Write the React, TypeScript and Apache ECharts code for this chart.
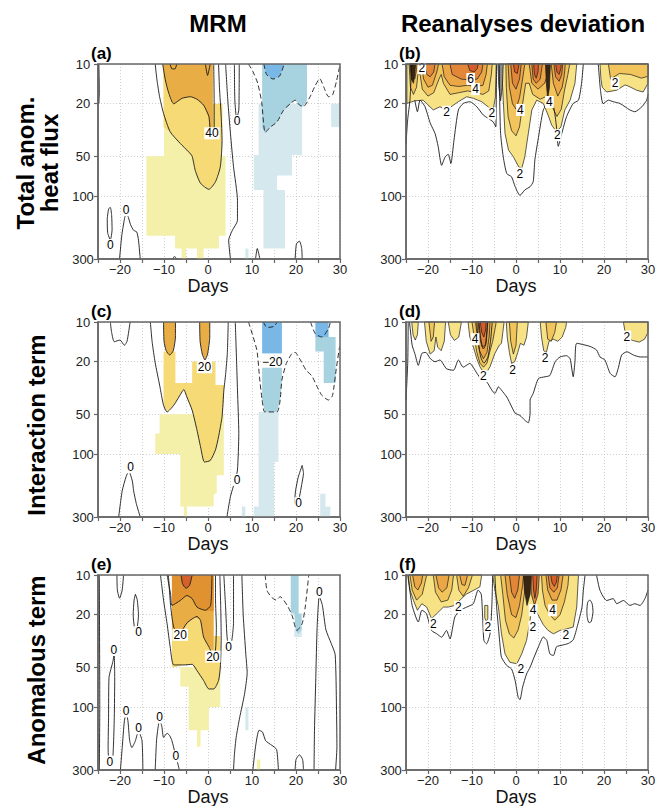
import React, { useEffect, useRef } from 'react';
import * as echarts from 'echarts';

type Pt = [number, number]; // [day, hPa]
type Fill = [string, Pt[]];
type Lbl = [string, number, number];

// ---------- axis definitions ----------
const X_MIN = -25;
const X_MAX = 30;
const X_STEP = 5;
const P_TOP = 10;
const P_BOTTOM = 300;
const P_TICKS = [10, 20, 50, 100, 300];

// ---------- panel (a): MRM, total anomalous heat flux ----------
const A_FILLS: Fill[] = [
  ['y1', [[-10, 30], [2, 30], [2, 50], [4, 50], [4, 200], [2.5, 200], [2.5, 250], [-1, 250], [-1, 300], [-2.5, 300], [-2.5, 250], [-5, 250], [-5, 300], [-6, 300], [-6, 250], [-7.5, 250], [-7.5, 200], [-14, 200], [-14, 50], [-10, 50]]],
  ['y2', [[-10.2, 10], [-10.1, 20], [-10.1, 30], [-8.6, 32.6], [-6.3, 40], [-4.4, 46.3], [-3.6, 50], [-2.9, 64], [-1.7, 80], [0.2, 89], [1.7, 78], [2.8, 60], [3.2, 38], [3.3, 20], [1.1, 20], [1.1, 10]]],
  ['o1', [[-10.3, 10], [-9.7, 13.2], [-8.9, 16.7], [-7.8, 20], [-5.9, 18.2], [-4, 17.7], [-2.5, 18.5], [-1, 20.5], [0.2, 25], [0.3, 30], [1.1, 30], [1.1, 10]]],
  ['b1', [[11.5, 20], [21.4, 20], [21.4, 49], [19.1, 49], [19.1, 70], [15.7, 70], [15.7, 90], [17.5, 90], [17.5, 250], [12.6, 250], [12.6, 90], [10.4, 90], [10.4, 49], [11.5, 49]]],
  ['b1', [[8.5, 250], [9.2, 250], [9.2, 300], [8.5, 300]]],
  ['b1', [[28, 20], [30, 20], [30, 30], [28, 30]]],
  ['b2', [[12.3, 10], [22.5, 10], [22.5, 18.8], [21.7, 21], [20.8, 20.5], [19.8, 18.8], [18.7, 20], [17.2, 22.3], [15.7, 27.4], [14.2, 30], [13, 33.3], [12.3, 30]]],
  ['b3', [[12.7, 10], [13.3, 12], [14.8, 13], [16.3, 12.3], [17.3, 10]]],
];
const A_SOLID: Pt[][] = [
  [[-12, 10], [-11.6, 13.2], [-11, 17.7], [-10.1, 23.7], [-8.6, 32.6], [-6.3, 40], [-4.4, 46.3], [-3.6, 50], [-2.9, 64], [-1.7, 80], [0.2, 89], [1.7, 78], [2.8, 60], [3.2, 38], [3.0, 25], [2.6, 15], [2.4, 10]],
  [[-10.3, 10], [-9.7, 13.2], [-8.9, 16.7], [-7.8, 20], [-5.9, 18.2], [-4, 17.7], [-2.5, 18.5], [-1, 20.5], [0.2, 25], [0.5, 31], [1.0, 32], [1.4, 30], [1.4, 20], [1.3, 10]],
  [[-8.6, 10], [-8.2, 10.9], [-7.5, 10.9], [-7.1, 10]],
  [[-0.6, 10], [-0.1, 12.2], [0.5, 10]],
  [[4, 10], [4.5, 18.8], [5.1, 33.6], [5.8, 60], [6.7, 108], [6.7, 153], [5.5, 183], [4.7, 216], [5.1, 300]],
  [[6.0, 10], [6.1, 18.8], [6.5, 25.8], [7.0, 22.3], [7.1, 10]],
  [[-24.8, 10], [-24.7, 16], [-24.8, 20]],
  [[-22.6, 125], [-22.9, 150], [-22.8, 190], [-22.2, 215], [-21.8, 180], [-21.9, 140], [-22.2, 122], [-22.6, 125]],
  [[-20.1, 300], [-19.6, 200], [-19, 150], [-18.6, 135], [-18.1, 145], [-17.6, 165], [-16.9, 182], [-16.2, 187], [-15.8, 216], [-15.4, 300]],
  [[-8.2, 300], [-7.6, 288], [-7, 300]],
  [[10.8, 300], [11.2, 250], [11.8, 300]],
  [[19.8, 300], [20.1, 230], [20.8, 220], [21.3, 250], [21.4, 300]],
];
const A_DASHED: Pt[][] = [
  [[9.2, 10], [10.2, 11.4], [11.3, 14], [12.2, 19.5], [13, 33], [14.2, 30], [15.7, 27.4], [17.2, 22.3], [18.7, 20], [19.8, 18.8], [20.8, 20.5], [21.7, 21], [23.2, 17.7], [24.4, 14.5], [25.4, 12.9], [26.3, 14.9], [27.4, 17.7], [28.3, 17.2], [29.2, 13.5], [29.9, 10.5]],
  [[12.7, 10], [13.3, 12], [14.8, 13], [16.3, 12.3], [17.3, 10]],
];
const A_LABELS: Lbl[] = [['40', 0.9, 33.5], ['0', 6.6, 27], ['0', -18.6, 128], ['0', -22.2, 235]];

// ---------- panel (b): Reanalyses deviation, total ----------
const B_FILLS: Fill[] = [
  ['r1', [[-24.8, 10], [-24.8, 19.9], [-23, 19], [-21.1, 18.8], [-18.8, 22.3], [-17.3, 21.1], [-15.8, 22.3], [-13.1, 19.3], [-11.2, 17.7], [-9.7, 18.2], [-7.8, 19.3], [-5.9, 21.7], [-5.2, 22.3], [-4.7, 18], [-4.5, 10]]],
  ['r1', [[-3.3, 10], [-2.9, 18.8], [-2.5, 33.6], [-1.7, 44.9], [-0.6, 50.5], [0.6, 60], [1.3, 62], [2, 50.5], [2.8, 33.6], [3.6, 22.3], [4.7, 18.8], [6.2, 19.9], [7.3, 24.4], [8.1, 29], [9.2, 32.6], [10.2, 30], [11.1, 22.3], [12.3, 18.8], [13.4, 14], [13.8, 10]]],
  ['r1', [[19.1, 10], [19.3, 13], [19.6, 15], [20.6, 16.3], [22.9, 15.8], [24.8, 14.4], [25.9, 14.9], [27.4, 15.8], [28.9, 16.3], [30, 14], [30, 10]]],
  ['r2', [[-24.3, 10], [-24, 15], [-23.3, 17], [-22.6, 15], [-22.3, 12], [-21.8, 12], [-21.3, 15.5], [-20, 17.5], [-18.7, 16.5], [-17.5, 13], [-17, 12], [-16.5, 14], [-15, 17], [-13, 16.5], [-11, 16], [-9, 16.5], [-7.5, 17], [-6.2, 16], [-5.6, 12], [-5.4, 10]]],
  ['r2', [[-2.3, 10], [-2.2, 15], [-1.8, 25], [-1, 32], [0, 35], [0.8, 30], [1.5, 20], [2.2, 14], [3, 14], [3.8, 17], [5.5, 18.5], [7, 17.5], [8.2, 21], [9.3, 25], [10.3, 22], [11, 16], [11.8, 12], [12.2, 10]]],
  ['r2', [[21, 10], [21.5, 13], [23.5, 11.8], [26, 12], [28.5, 12.8], [30, 12.4], [30, 10]]],
  ['r3', [[-24, 10], [-23.6, 12.5], [-23, 13], [-22.6, 11], [-22.5, 10]]],
  ['r3', [[-21.5, 10], [-21, 13], [-20, 15], [-19, 14.5], [-18, 11.5], [-17.6, 10]]],
  ['r3', [[-16.8, 10], [-16.3, 12.5], [-15, 14.5], [-13, 14.8], [-11, 14.5], [-9, 14.8], [-7.5, 14.5], [-6.8, 12], [-6.5, 10]]],
  ['r3', [[-1.8, 10], [-1.5, 15], [-0.8, 20], [0, 22], [0.8, 18], [1.5, 13], [2, 10]]],
  ['r3', [[3, 10], [3.6, 14], [5, 15.5], [6.5, 14], [7.2, 12], [7.5, 10]]],
  ['r3', [[8, 10], [8.5, 14], [9.5, 17.5], [10.5, 15], [11, 12], [11.2, 10]]],
  ['r4', [[-20.8, 10], [-20.3, 12], [-19.5, 12.5], [-18.7, 11.5], [-18.4, 10]]],
  ['r4', [[-15, 10], [-14.5, 12], [-12.5, 13], [-10.5, 13.2], [-8.8, 13], [-7.8, 11.5], [-7.5, 10]]],
  ['r4', [[-1.2, 10], [-0.8, 14], [0, 15.5], [0.8, 13], [1.2, 10]]],
  ['r4', [[3.6, 10], [3.9, 13], [4.6, 14], [5.5, 13], [6, 10]]],
  ['r4', [[8.6, 10], [9, 12.5], [9.8, 13.5], [10.4, 12], [10.6, 10]]],
  ['r5', [[-11, 10], [-10.5, 11.2], [-9.5, 11.5], [-8.8, 10.8], [-8.6, 10]]],
  ['r5', [[-0.6, 10], [-0.3, 11.5], [0.3, 11.8], [0.7, 10]]],
  ['r5', [[4, 10], [4.2, 12], [4.6, 12.8], [5, 11.5], [5.1, 10]]],
  ['r5', [[9, 10], [9.3, 11.5], [9.8, 12], [10.2, 10.8], [10.3, 10]]],
  ['dk', [[6.7, 10], [6.9, 14], [7.2, 18.5], [7.6, 15], [7.8, 10]]],
  ['dk', [[-24.1, 10], [-23.8, 13], [-23.3, 14], [-23, 12], [-22.8, 10]]],
  ['gr', [[-4.1, 10], [-3.9, 15], [-3.5, 19], [-3.1, 15], [-2.9, 10]]],
];
const B_SOLID: Pt[][] = [
  [[-25, 40], [-24.6, 26], [-24.1, 18.8], [-23.7, 10]],
  [[-23, 18.8], [-22.4, 23], [-21.8, 18.8], [-20.7, 21], [-19.5, 28], [-18.4, 33.6], [-17.7, 42], [-16.9, 58.6], [-16.1, 50.5], [-15.4, 48.3], [-14.8, 56.7], [-14.1, 37.8], [-13.1, 22.3], [-12, 19.9], [-10.5, 19.3], [-8.9, 21.1], [-7.4, 24.4], [-5.2, 27.4], [-4.6, 30], [-4.5, 20], [-4.4, 10]],
  [[-3.8, 10], [-3.7, 18.8], [-3.5, 33.6], [-2.9, 50.5], [-2.1, 67.6], [-1, 71.6], [-0.2, 85], [0.9, 99], [2, 90], [3.2, 85], [3.9, 78], [4.3, 53], [5, 37.8], [6.2, 22.3], [7.3, 19.9], [8.5, 21], [9.2, 30], [9.6, 42], [10.4, 33.6], [11.5, 25], [13, 19.9], [14.2, 18.8], [14.9, 14], [15.3, 10]],
  [[18.7, 10], [19.2, 15.8], [19.8, 20], [21, 18.8], [22.1, 19.3], [23.6, 19.9], [24.8, 21.1], [25.9, 22.3], [27, 23], [28.6, 21.1], [29.7, 18.8], [30, 17]],
];
const B_DASHED: Pt[][] = [];
const B_LABELS: Lbl[] = [['2', -21.4, 10.8], ['6', -10.3, 13], ['4', -9.2, 15.5], ['2', -15.8, 23], ['2', -5.5, 23.7], ['4', 1, 22.3], ['4', 7.6, 19.4], ['2', 9.4, 34.6], ['2', 0.9, 67.6], ['2', 22.5, 14]];

// ---------- panel (c): MRM, interaction term ----------
const C_FILLS: Fill[] = [
  ['y1', [[-11, 50], [3.6, 50], [3.6, 145], [2, 145], [2, 200], [1.3, 200], [1.3, 250], [-4.8, 250], [-4.8, 300], [-5.5, 300], [-5.5, 250], [-6.3, 250], [-6.3, 100], [-12, 100], [-12, 70], [-11, 70]]],
  ['y2', [[-10.1, 16.7], [-7.4, 16.7], [-7.4, 29], [-3.6, 29], [-3.6, 19.9], [1.7, 19.9], [1.7, 30], [3.6, 30], [3.6, 39], [3.2, 52], [2.4, 74], [1.7, 93], [0.5, 112], [-0.8, 115], [-1.7, 88], [-2.5, 66], [-3.6, 46.6], [-4.8, 37], [-5.5, 32.5], [-5.9, 33.8], [-7.8, 42.8], [-9.3, 48], [-10.1, 42.8]]],
  ['o1', [[-10.1, 10], [-10, 14], [-9.5, 16.5], [-8.7, 17.8], [-7.9, 16.5], [-7.4, 13], [-7.4, 10]]],
  ['o1', [[-1.9, 10], [-1.8, 14], [-1.3, 17.5], [-0.7, 19.4], [-0.1, 17.5], [0.4, 13], [0.4, 10]]],
  ['b1', [[11.5, 48], [16, 48], [16, 115], [15, 115], [15, 300], [10.4, 300], [10.4, 250], [11.5, 250]]],
  ['b1', [[7.7, 250], [8.5, 250], [8.5, 300], [7.7, 300]]],
  ['b1', [[25.5, 200], [26.7, 200], [26.7, 250], [27.8, 250], [27.8, 300], [25.5, 300]]],
  ['b2', [[12.3, 20], [16.8, 20], [16.8, 27.5], [16.4, 39], [15.7, 48], [12.9, 48], [12.3, 39]]],
  ['b2', [[24.4, 13], [29, 13], [29, 29], [26.3, 29], [26.3, 16.7], [24.4, 16.7]]],
  ['b3', [[12.3, 10], [12.3, 17.3], [16.8, 17.3], [16.8, 10]]],
  ['b3', [[24.4, 10], [24.4, 13], [27.4, 13], [27.4, 10]]],
];
const C_SOLID: Pt[][] = [
  [[-22.2, 10], [-21.9, 12], [-21.3, 14.1], [-20, 13.7], [-19, 15], [-18.4, 14], [-17.7, 10]],
  [[-13.1, 10], [-12.7, 14.1], [-12, 20.4], [-11, 30], [-10.1, 42.8], [-9.3, 48], [-7.8, 42.8], [-5.9, 33.8], [-5.5, 32.5], [-4.8, 37], [-3.6, 46.6], [-2.5, 66], [-1.7, 88], [-0.8, 115], [0.5, 112], [1.7, 93], [2.4, 74], [3.2, 52], [3.6, 33], [4, 25], [4.4, 17], [4.6, 10]],
  [[-10.1, 10], [-10, 14], [-9.5, 16.5], [-8.7, 17.8], [-7.9, 16.5], [-7.4, 13], [-7.4, 10]],
  [[-1.9, 10], [-1.8, 14], [-1.3, 17.5], [-0.7, 19.4], [-0.1, 17.5], [0.4, 13], [0.4, 10]],
  [[6.2, 10], [6.5, 20], [6.7, 32.8], [7, 70], [6.7, 132], [6.2, 157], [5.1, 210], [4.3, 300]],
  [[-20.3, 300], [-19.5, 190], [-18.6, 148], [-18, 135], [-17.2, 160], [-16.9, 190], [-16.3, 237], [-15.4, 300]],
  [[21.4, 122], [21.7, 140], [21.3, 170], [20.8, 210], [20.2, 250], [19.7, 230], [19.9, 190], [20.5, 150], [21.4, 122]],
];
const C_DASHED: Pt[][] = [
  [[9.2, 10], [11.1, 16.3], [11.7, 26], [12.3, 39], [12.9, 48], [15.7, 48], [16.4, 39], [16.8, 27.5], [17.8, 20.6], [19.1, 17.3], [19.8, 17], [21, 19.4], [22.3, 23.2], [23.6, 25.6], [24.8, 30.9], [25.9, 36], [27.4, 39], [28.3, 36], [29.2, 22], [29.9, 15.4]],
  [[12.6, 10], [13.4, 11], [15, 10.8], [15.7, 10]],
  [[23.3, 10], [24.4, 12.3], [25.9, 13], [27.4, 11.2], [27.8, 10]],
];
const C_LABELS: Lbl[] = [['20', -0.8, 22], ['\u221220', 14.6, 20], ['0', -17.6, 126], ['0', 20.6, 236], ['0', 6.6, 157]];

// ---------- panel (d): Reanalyses deviation, interaction term ----------
const D_FILLS: Fill[] = [
  ['r1', [[-23.7, 10], [-23.4, 12.5], [-22.9, 13.7], [-22.4, 12.5], [-22.2, 10]]],
  ['r1', [[-20.8, 10], [-20.4, 14], [-19.5, 17.5], [-18.6, 16.5], [-18.2, 13], [-17.8, 15.5], [-17, 16.5], [-16.3, 14], [-16, 10]]],
  ['r1', [[-15.4, 10], [-14.9, 12.5], [-14, 13.8], [-13, 13], [-12.4, 10]]],
  ['r1', [[-10.9, 10], [-10.5, 13], [-9.7, 15.4], [-8.9, 19], [-8.2, 21.8], [-7.3, 24.4], [-6.5, 23.5], [-5.9, 21.8], [-4.8, 17.3], [-3.8, 15], [-3.3, 14.5], [-3, 12], [-2.7, 10]]],
  ['r1', [[-2.2, 10], [-2, 13], [-1.5, 17], [-1, 20.6], [-0.3, 20], [0.4, 17], [1, 14.5], [1.8, 15], [2.4, 13], [2.8, 10]]],
  ['r1', [[5.5, 10], [5.8, 13], [6.3, 16.5], [6.9, 17], [7.5, 14], [8.5, 13.5], [9.5, 14], [10.5, 13], [11.3, 11], [11.5, 10]]],
  ['r1', [[24.4, 10], [25, 13], [26.5, 13.8], [28, 14.2], [29.2, 13.5], [30, 12], [30, 10]]],
  ['r2', [[-10, 10], [-9.5, 13], [-8.9, 17], [-8.2, 20.5], [-7.4, 22], [-6.6, 20.5], [-6, 17], [-5.3, 14], [-4.7, 11], [-4.5, 10]]],
  ['r2', [[-1.5, 10], [-1.2, 14], [-0.6, 17.5], [0, 15], [0.3, 10]]],
  ['r2', [[6.8, 10], [7.2, 13.5], [8, 14], [8.8, 12], [9.2, 10]]],
  ['r2', [[-19.8, 10], [-19.3, 14], [-18.8, 13], [-18.5, 10]]],
  ['r3', [[-9.2, 10], [-8.8, 13], [-8.3, 16.5], [-7.4, 19], [-6.6, 17], [-6.1, 13], [-5.9, 10]]],
  ['r4', [[-8.6, 10], [-8.3, 13], [-7.7, 15.5], [-7, 15], [-6.6, 12], [-6.4, 10]]],
  ['r5', [[-8.1, 10], [-7.8, 12], [-7.3, 13], [-6.9, 11.5], [-6.8, 10]]],
];
const D_SOLID: Pt[][] = [
  [[-25, 39], [-24.6, 20], [-24.5, 10]],
  [[-24.2, 10], [-23.6, 15], [-23, 17.3], [-22.2, 21.3], [-21.4, 17.3], [-20.5, 17], [-19.5, 18.9], [-18.4, 20], [-17.3, 19.4], [-15.8, 22.6], [-14.2, 23.2], [-13.1, 19.4], [-12, 22], [-10.5, 20.6], [-8.9, 24.4], [-7.8, 27.5], [-6.7, 28.3], [-5.5, 32.8], [-4.8, 34.8], [-4, 31], [-3.3, 32.8], [-2.1, 37], [-1.4, 41], [-0.2, 49], [0.9, 51], [2, 55.5], [2.8, 58], [3.2, 49], [3.2, 39], [3.9, 34.8], [5.1, 26.8], [6.6, 26], [7.7, 25.4], [8.9, 20], [10, 18.4], [11.5, 18], [12.3, 19], [13, 26], [13.4, 20], [13.8, 14.5], [16.8, 15.3], [18.3, 16.3], [19.1, 18.4], [20.2, 19.4], [21.4, 24.5], [22.5, 26], [23.3, 22], [24, 17.8], [25.2, 16.8], [26.7, 17.8], [28.2, 18.4], [30, 18.4]],
  [[-8.9, 10], [-8.6, 14], [-8, 18.5], [-7.3, 20.5], [-6.4, 18.5], [-5.8, 14], [-5.4, 10]],
  [[-8.4, 10], [-8, 13.5], [-7.4, 16], [-6.8, 14.5], [-6.5, 10]],
];
const D_DASHED: Pt[][] = [];
const D_LABELS: Lbl[] = [['4', -9.3, 13.5], ['2', -7.4, 25.7], ['2', -0.8, 23.2], ['2', 6.6, 18.9], ['2', 25.2, 12.9]];

// ---------- panel (e): MRM, anomalous term ----------
const E_FILLS: Fill[] = [
  ['y1', [[-6.3, 50], [2.8, 50], [2.8, 100], [0.2, 100], [0.2, 150], [-1.7, 150], [-1.7, 200], [-2.5, 200], [-2.5, 150], [-4.4, 150], [-4.4, 70], [-6.3, 70]]],
  ['y1', [[11.1, 250], [11.9, 250], [11.9, 300], [11.1, 300]]],
  ['y2', [[-8.2, 26], [-6.3, 27], [-5, 24], [-3.6, 21.5], [-2.8, 21], [-1.7, 22.1], [-1, 29.5], [0.2, 35], [1.3, 38.5], [1.3, 29], [2.8, 29], [2.8, 50], [2.4, 63], [1.3, 73], [0.2, 73], [-1, 63], [-2.5, 53], [-3.6, 47.5], [-5.5, 48], [-7.8, 50], [-8.2, 50]]],
  ['o1', [[-8.2, 10], [1.3, 10], [1.3, 38.5], [0.2, 35], [-1, 29.5], [-1.7, 22.1], [-2.8, 21], [-3.6, 21.5], [-5, 24], [-6.3, 27], [-8.2, 26]]],
  ['o2', [[-8.2, 10], [1.3, 10], [1.3, 18.8], [-0.6, 18.5], [-2.5, 17.5], [-3.6, 15.1], [-4.8, 14.3], [-6.3, 15.6], [-8.2, 17]]],
  ['o3', [[-6.1, 10], [-5.8, 11.6], [-5, 12.6], [-4.2, 12], [-3.6, 10]]],
  ['b1', [[19.6, 26], [21.3, 26], [21.3, 29.5], [19.6, 29.5]]],
  ['b1', [[8.5, 100], [9.2, 100], [9.2, 150], [8.5, 150]]],
  ['b2', [[18.8, 10], [20.6, 10], [20.6, 19.6], [21.3, 19.6], [21.3, 26], [20.5, 28], [19.9, 26], [19.6, 19.6], [18.8, 19.6]]],
];
const E_SOLID: Pt[][] = [
  [[-24.7, 10], [-24.6, 100], [-24.7, 300]],
  [[-20.7, 10], [-20.6, 13], [-20.1, 15], [-19.5, 13], [-19.2, 10]],
  [[-16.5, 14], [-16.8, 15.5], [-17, 20], [-16.7, 25], [-16.2, 25.5], [-15.8, 20], [-16.1, 15.3], [-16.5, 14]],
  [[-21.3, 38], [-21.6, 45], [-22.5, 60], [-22.6, 120], [-22.7, 200], [-22.5, 265], [-21.8, 270], [-21.5, 200], [-21.3, 120], [-21.2, 60], [-21.3, 38]],
  [[-19.9, 300], [-19.5, 203], [-19, 127], [-18.6, 112], [-18.2, 127], [-17.8, 180], [-17.3, 203], [-16.5, 180], [-15.8, 152], [-15, 180], [-14.8, 300]],
  [[-12, 300], [-11.7, 180], [-11.4, 147], [-11, 125], [-10.5, 140], [-10.1, 170], [-9.3, 158], [-8.7, 165], [-8.2, 180], [-7.5, 222], [-7.1, 250], [-6.5, 300]],
  [[-10.8, 10], [-10.1, 15.5], [-9.3, 23.4], [-8.6, 35], [-7.8, 48], [-5.5, 48], [-3.6, 47.5], [-2.5, 53], [-1, 63], [0.2, 73], [1.3, 73], [2.4, 63], [2.8, 50], [3, 30], [2.9, 18], [2.7, 10]],
  [[-9, 10], [-8.5, 17], [-7.8, 24.8], [-6.6, 28], [-4.8, 23.1], [-3.6, 21.5], [-2.5, 20.6], [-1.7, 22.1], [-1, 29.5], [0.2, 35], [1.2, 40], [1.7, 37], [1.9, 25], [1.7, 15], [1.7, 10]],
  [[-9.3, 10], [-8.5, 14], [-8.2, 17], [-6.3, 15.6], [-4.8, 14.3], [-3.6, 15.1], [-2.5, 17.5], [-0.6, 18.5], [0.6, 17], [0.9, 10]],
  [[-6.1, 10], [-5.8, 11.6], [-5, 12.6], [-4.2, 12], [-3.6, 10]],
  [[3.6, 10], [4, 17.5], [4.4, 31], [5.1, 35], [5.8, 23], [5.8, 10]],
  [[7.7, 10], [8, 20], [8.6, 40], [8.9, 55], [8.3, 80], [7.2, 120], [6.4, 170], [6, 230], [5.8, 300]],
  [[10.2, 300], [10.8, 200], [11.6, 150], [12.4, 155], [13.1, 180], [14.5, 195], [15.6, 210], [16, 300]],
  [[19.8, 300], [20, 250], [20.8, 230], [21.5, 250], [21.7, 300]],
  [[24.1, 300], [24.2, 150], [24.5, 60], [24.8, 25], [25.3, 14.5], [26, 17], [26.8, 26], [28, 33], [28.9, 40], [29.2, 100], [29.3, 200], [29, 300]],
];
const E_DASHED: Pt[][] = [
  [[13, 10], [13.4, 13.1], [14.5, 14.8], [15.5, 15.5], [16.4, 14.6], [18, 17], [19.1, 20.2], [20.2, 26.3], [21.4, 23.4], [22.1, 17.5], [22.9, 10]],
];
const E_LABELS: Lbl[] = [['0', -15.8, 27], ['0', -21.4, 37], ['0', -22.3, 259], ['0', -18.6, 108], ['0', -15.8, 145], ['0', -11, 120], ['0', -7.3, 236], ['20', -6.3, 28.4], ['20', 1.1, 41.5], ['0', 4.7, 35], ['0', 25.3, 13.5]];

// ---------- panel (f): Reanalyses deviation, anomalous term ----------
const F_FILLS: Fill[] = [
  ['r1', [[-24.5, 10], [-24.1, 13], [-23.3, 15.6], [-22.4, 18.5], [-21.4, 16.5], [-20.3, 17.5], [-19.2, 21.4], [-18, 19.6], [-16.5, 17.5], [-15.4, 17.5], [-13.9, 17], [-12.3, 15], [-11.2, 13.9], [-9.7, 13.1], [-8.2, 12.3], [-7.8, 10]]],
  ['r1', [[-7.1, 17], [-6.4, 17], [-6.4, 21.5], [-6.8, 22.5], [-7.1, 21]]],
  ['r1', [[-5.3, 10], [-4.8, 13], [-4, 17.5], [-3.3, 27.9], [-2.5, 39.6], [-1.4, 45.8], [0.2, 47.1], [1.3, 39.6], [2.4, 31.3], [3.2, 22], [3.6, 17.5], [4.7, 19.1], [6.2, 23.8], [7.3, 26.3], [8.5, 27.9], [10, 26.3], [11.5, 25.6], [13, 24.8], [13.8, 17.5], [14.2, 10]]],
  ['r2', [[-24.1, 10], [-23.6, 13], [-22.6, 15.5], [-21.3, 14], [-20.3, 10]]],
  ['r2', [[-18.8, 10], [-18.3, 13.5], [-17, 16], [-15.5, 15.5], [-14.6, 13], [-14.2, 10]]],
  ['r2', [[-13.5, 10], [-13, 13], [-12, 14.5], [-10.8, 12.5], [-9.9, 10]]],
  ['r2', [[-3.5, 10], [-3, 14], [-2.4, 22], [-1.5, 28], [-0.5, 30], [0.5, 26], [1.3, 20], [2, 13], [2.3, 10]]],
  ['r2', [[5.8, 10], [6, 13], [6.6, 17], [7.7, 20], [8.8, 22], [10, 20], [11, 16], [11.8, 12], [12, 10]]],
  ['r3', [[-23.5, 10], [-23, 12.3], [-22.3, 13], [-21.5, 11.5], [-21.2, 10]]],
  ['r3', [[-18.2, 10], [-17.6, 12.5], [-16.8, 13.5], [-15.7, 12.5], [-15.2, 10]]],
  ['r3', [[-12.8, 10], [-12.3, 11.8], [-11.6, 12], [-11, 10]]],
  ['r3', [[-2.5, 10], [-2, 14], [-1, 20], [0, 21], [0.8, 17], [1.5, 12], [1.7, 10]]],
  ['r3', [[6.8, 10], [7.2, 13], [8.2, 15.5], [9.3, 15.5], [10.2, 13], [10.7, 10]]],
  ['r4', [[-1.5, 10], [-1, 13.5], [-0.3, 15], [0.4, 13], [0.8, 10]]],
  ['r4', [[7.3, 10], [7.7, 12.5], [8.6, 13.5], [9.4, 12.5], [9.8, 10]]],
  ['r4', [[3.3, 10], [3.5, 14], [4.2, 17], [5, 14], [5.3, 10]]],
  ['r5', [[3.8, 10], [4, 13], [4.3, 15], [4.6, 13], [4.8, 10]]],
  ['r5', [[7.9, 10], [8.2, 11.5], [8.7, 12.2], [9.2, 11.3], [9.4, 10]]],
  ['dk', [[1.7, 10], [1.9, 13], [2.5, 17], [3.2, 14], [3.5, 10]]],
];
const F_SOLID: Pt[][] = [
  [[-24.6, 10], [-23.6, 17], [-22.2, 22.7], [-21.4, 18.5], [-20.4, 19.5], [-19.2, 26.3], [-18, 27.9], [-16.9, 29.6], [-15.8, 26.3], [-15, 30.5], [-13.9, 20.8], [-12.7, 18.5], [-11.2, 17.5], [-9.7, 16.5], [-8.6, 13], [-7.9, 14], [-7.6, 20], [-7.3, 31.3], [-6.7, 33.2], [-5.9, 27.9], [-5.5, 17.5], [-5.3, 10]],
  [[-4.8, 10], [-4.4, 17.5], [-4, 24.8], [-3.6, 35], [-3.3, 42], [-2.1, 48.5], [-1, 51.6], [-0.2, 63], [0.5, 84.5], [0.9, 88], [1.5, 70.7], [2.4, 56.2], [3.2, 50], [4.1, 42], [5.1, 35], [6.2, 29.5], [7, 31.3], [7.7, 39.6], [8.5, 40.7], [9.2, 35], [10.5, 34], [11.9, 33], [13, 31], [14, 24], [15, 17.5], [15.3, 13.1], [15.7, 10]],
  [[16.1, 18.5], [16.3, 16], [16.8, 15.5], [17.3, 16.5], [17.5, 19], [17.1, 22.5], [16.6, 23], [16.2, 21], [16.1, 18.5]],
  [[18.3, 10], [19.1, 13.1], [20.6, 15.6], [22.1, 15.1], [22.9, 16.5], [24.4, 15.6], [25.9, 17], [27, 16.5], [28.2, 17], [29.3, 15.1], [30, 13]],
];
const F_DASHED: Pt[][] = [];
const F_LABELS: Lbl[] = [['2', -18.8, 23.4], ['2', -13.1, 17.5], ['2', -6.4, 24.6], ['4', 3.9, 18.5], ['2', 3.8, 24.6], ['4', 8.3, 18.5], ['2', 11.3, 28.7], ['2', 1.1, 51.6]];

// ---------- styling (kept apart from data) ----------
const FONT = '"Liberation Sans", Arial, Helvetica, sans-serif';
const FILL_COLORS: Record<string, string> = {
  y1: '#f5f0a9', y2: '#f5da76', o1: '#e8ad45', o2: '#df922f', o3: '#d4602b',
  b1: '#d5e8ee', b2: '#a7d2e0', b3: '#79b8e6',
  r1: '#f7e386', r2: '#f2c55c', r3: '#eba646', r4: '#e2873a', r5: '#d65c2c', dk: '#3a2412', gr: '#8a8a8a',
};
const GRID_LEFTS = [98, 406];
const GRID_TOPS = [64, 322, 575];
const GRID_W = 242;
const GRID_H = 195;

const PANELS = [
  { tag: '(a)', col: 0, row: 0, fills: A_FILLS, solid: A_SOLID, dashed: A_DASHED, labels: A_LABELS, outlined: false },
  { tag: '(b)', col: 1, row: 0, fills: B_FILLS, solid: B_SOLID, dashed: B_DASHED, labels: B_LABELS, outlined: true },
  { tag: '(c)', col: 0, row: 1, fills: C_FILLS, solid: C_SOLID, dashed: C_DASHED, labels: C_LABELS, outlined: false },
  { tag: '(d)', col: 1, row: 1, fills: D_FILLS, solid: D_SOLID, dashed: D_DASHED, labels: D_LABELS, outlined: true },
  { tag: '(e)', col: 0, row: 2, fills: E_FILLS, solid: E_SOLID, dashed: E_DASHED, labels: E_LABELS, outlined: false },
  { tag: '(f)', col: 1, row: 2, fills: F_FILLS, solid: F_SOLID, dashed: F_DASHED, labels: F_LABELS, outlined: true },
];

const lp = (p: number) => Math.log10(p);
const fmtDay = (v: number) => (v % 10 === 0 ? (v < 0 ? '\u2212' + Math.abs(v) : String(v)) : '');

function buildOption() {
  const grids: any[] = [];
  const xAxes: any[] = [];
  const yAxes: any[] = [];
  const series: any[] = [];
  const graphics: any[] = [];
  const yTicks = P_TICKS.map(lp);

  PANELS.forEach((pn, i) => {
    const left = GRID_LEFTS[pn.col];
    const top = GRID_TOPS[pn.row];
    grids.push({ left, top, width: GRID_W, height: GRID_H, show: false, outerBoundsMode: 'none', containLabel: false });
    xAxes.push({
      gridIndex: i, type: 'value', min: X_MIN, max: X_MAX, interval: X_STEP,
      axisLine: { show: true, onZero: false, lineStyle: { color: '#666', width: 1.5 } },
      axisTick: { show: true, length: 4, lineStyle: { color: '#666', width: 1.2 } },
      axisLabel: { formatter: fmtDay, fontSize: 13, color: '#222', margin: 4, fontFamily: FONT, showMinLabel: true, showMaxLabel: true },
      splitLine: { show: true, lineStyle: { color: '#c4c4c4', width: 0.8, type: [1, 2] } },
      name: 'Days', nameLocation: 'middle', nameGap: 15,
      nameTextStyle: { fontSize: 18, color: '#111', fontFamily: FONT, padding: [0, 22, 0, 0] },
    });
    yAxes.push({
      gridIndex: i, type: 'value', min: lp(P_TOP), max: lp(P_BOTTOM), inverse: true,
      axisLine: { show: true, onZero: false, lineStyle: { color: '#666', width: 1.5 } },
      axisTick: { show: true, length: 4, customValues: yTicks, lineStyle: { color: '#666', width: 1.2 } },
      axisLabel: { customValues: yTicks, formatter: (v: number) => String(Math.round(Math.pow(10, v))), fontSize: 13, color: '#222', margin: 15, align: 'center', fontFamily: FONT },
      splitLine: { show: true, lineStyle: { color: '#c4c4c4', width: 0.8, type: [1, 2] } },
    });

    const fills = pn.fills;
    const outlined = pn.outlined;
    series.push({
      type: 'custom', xAxisIndex: i, yAxisIndex: i, silent: true, z: 2, animation: false,
      data: fills.map(() => [0, 1.5]),
      renderItem: (params: any, api: any) => {
        const [lvl, pts] = fills[params.dataIndex];
        const points = pts.map(([d, p]) => api.coord([d, lp(p)]));
        return {
          type: 'polygon', shape: { points },
          style: { fill: FILL_COLORS[lvl], stroke: outlined ? '#1a1a1a' : 'none', lineWidth: 0.7 },
        };
      },
    });
    const addLine = (pts: Pt[], dashed: boolean) => {
      series.push({
        type: 'line', xAxisIndex: i, yAxisIndex: i, silent: true, z: 3, animation: false,
        data: pts.map(([d, p]) => [d, lp(p)]),
        showSymbol: false, symbol: 'none', smooth: 0.2,
        lineStyle: { color: '#1a1a1a', width: 0.9, type: dashed ? [5, 3] : 'solid' },
      });
    };
    pn.solid.forEach((l) => addLine(l, false));
    pn.dashed.forEach((l) => addLine(l, true));
    const labels = pn.labels;
    series.push({
      type: 'custom', xAxisIndex: i, yAxisIndex: i, silent: true, z: 4, animation: false,
      data: labels.map(() => [0, 1.5]),
      renderItem: (params: any, api: any) => {
        const [t, d, p] = labels[params.dataIndex];
        const [x, y] = api.coord([d, lp(p)]);
        return {
          type: 'text', x, y,
          style: { text: t, fill: '#000000', font: `12px ${FONT}`, align: 'center', verticalAlign: 'middle', backgroundColor: '#ffffff', padding: [0, 1] },
        };
      },
    });

    graphics.push({ type: 'rect', z: 100, shape: { x: left, y: top, width: GRID_W, height: GRID_H }, style: { fill: 'none', stroke: '#666', lineWidth: 1.5 } });
    graphics.push({ type: 'text', z: 100, x: left - 7, y: top - 11, style: { text: pn.tag, font: `bold 17px ${FONT}`, fill: '#000', align: 'left', verticalAlign: 'middle' } });
  });

  graphics.push({ type: 'text', x: 218, y: 23.5, style: { text: 'MRM', font: `bold 24px ${FONT}`, fill: '#000', align: 'center', verticalAlign: 'middle' } });
  graphics.push({ type: 'text', x: 523, y: 23.5, style: { text: 'Reanalyses deviation', font: `bold 24px ${FONT}`, fill: '#000', align: 'center', verticalAlign: 'middle' } });
  const rowLabels: [string, number, number][] = [
    ['Total anom.', 25, 163], ['heat flux', 49, 163], ['Interaction term', 36.5, 425], ['Anomalous term', 36.5, 670],
  ];
  rowLabels.forEach(([t, x, y]) => {
    graphics.push({ type: 'text', x, y, rotation: Math.PI / 2, style: { text: t, font: `bold 24px ${FONT}`, fill: '#000', align: 'center', verticalAlign: 'middle' } });
  });

  return {
    animation: false,
    backgroundColor: '#ffffff',
    textStyle: { fontFamily: FONT },
    grid: grids,
    xAxis: xAxes,
    yAxis: yAxes,
    series,
    graphic: { elements: graphics },
  };
}

export default function App() {
  const ref = useRef<HTMLDivElement>(null);
  useEffect(() => {
    document.body.style.margin = '0';
    if (!ref.current) return;
    const chart = echarts.init(ref.current, null, { renderer: 'svg' });
    chart.setOption(buildOption() as any);
    return () => chart.dispose();
  }, []);
  return <div ref={ref} style={{ position: 'absolute', left: 0, top: 0, width: 656, height: 806 }} />;
}
